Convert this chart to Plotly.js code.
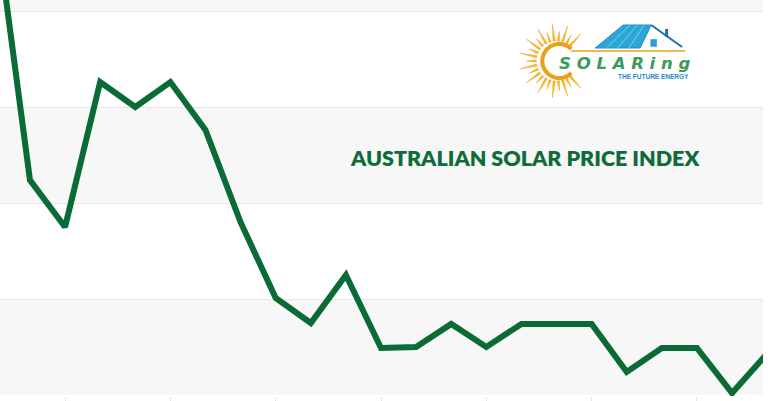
<!DOCTYPE html>
<html><head>
<script src="https://cdn.plot.ly/plotly-3.0.1.min.js"></script>
<style>body{margin:0;background:#fff}#c{width:768px;height:401px}</style>
</head><body><div id="c"></div>
<script>
// Data
const periods = [0,1,2,3,4,5,6,7,8,9,10,11,12,13,14,15,16,17,18,19,20,21,22];
const priceIndex = [1.400,1.124,1.075,1.226,1.200,1.226,1.176,1.080,1.001,0.975,1.025,0.949,0.950,0.974,0.950,0.974,0.974,0.974,0.924,0.949,0.949,0.902,0.943];
const tickPeriods = [2,5,8,11,14,17,20];
const gridValues = [0.9,1.0,1.1,1.2,1.3];
const titleText = 'AUSTRALIAN SOLAR PRICE INDEX';
const logoText = 'S O L A R i n g';
const logoSub = 'THE FUTURE ENERGY';

// pixel helpers (for decoration placement)
const px2x = p => (p - 30) / 35.15 + 1;
const py2y = p => 0.90 + (395 - p) / 960;

const shapes = [];
// alternating bands
[[0.9,1.0],[1.1,1.2],[1.3,1.4]].forEach(b => shapes.push({
  type:'rect', xref:'paper', x0:0, x1:1, yref:'y', y0:b[0], y1:b[1],
  fillcolor:'#f7f7f7', line:{width:0}, layer:'below'
}));

// Logo: sun rays
const cx = 557, cy = 61;
let rays = '';
const nR = 30;
for (let k = 0; k < nR; k++) {
  const a = k / nR * 2 * Math.PI;
  const deg = a * 180 / Math.PI;
  if (deg < 40 || deg > 320) continue;
  const r0 = 20, r1 = (k % 2 ? 30 : 37);
  const w = 0.06;
  const p1 = [cx + r0*Math.cos(a-w), cy - r0*Math.sin(a-w)];
  const p2 = [cx + r1*Math.cos(a), cy - r1*Math.sin(a)];
  const p3 = [cx + r0*Math.cos(a+w), cy - r0*Math.sin(a+w)];
  rays += `M${px2x(p1[0])},${py2y(p1[1])} L${px2x(p2[0])},${py2y(p2[1])} L${px2x(p3[0])},${py2y(p3[1])} Z `;
}
shapes.push({type:'path', path:rays, fillcolor:'#f2b632', line:{color:'#f0a820', width:0.5}, layer:'above'});
// C arc
let arc = '';
for (let d = 45; d <= 315; d += 5) {
  const a = d * Math.PI / 180;
  const x = cx + 3 + 17*Math.cos(a), y = cy - 17*Math.sin(a);
  arc += (arc ? 'L' : 'M') + px2x(x) + ',' + py2y(y) + ' ';
}
shapes.push({type:'path', path:arc, line:{color:'#e9a11c', width:4}, layer:'above'});
// underline
shapes.push({type:'line', x0:px2x(572), x1:px2x(686), y0:py2y(51), y1:py2y(51), line:{color:'#e9a11c', width:1.5}, layer:'above'});
// roof panels
shapes.push({type:'path', path:`M${px2x(596)},${py2y(48)} L${px2x(624)},${py2y(25)} L${px2x(652)},${py2y(25)} L${px2x(641)},${py2y(48)} Z`,
  fillcolor:'#2aa7d6', line:{color:'#1b8fc4', width:1}, layer:'above'});
// panel grid lines
for (let k = 1; k < 4; k++) {
  const t = k/4;
  shapes.push({type:'line', x0:px2x(596+45*t), y0:py2y(48), x1:px2x(624+28*t), y1:py2y(25), line:{color:'#bfe7f5', width:0.6}, layer:'above'});
}
// house outline
shapes.push({type:'path', path:`M${px2x(652)},${py2y(25)} L${px2x(683)},${py2y(47)}`, line:{color:'#1e6fa8', width:2}, layer:'above'});
shapes.push({type:'rect', x0:px2x(666), x1:px2x(669), y0:py2y(37), y1:py2y(29), fillcolor:'#1e6fa8', line:{width:0}, layer:'above'});
shapes.push({type:'rect', x0:px2x(651), x1:px2x(658), y0:py2y(47), y1:py2y(39), fillcolor:'#2a9fd0', line:{color:'#fff', width:0.5}, layer:'above'});

const trace = {
  x: periods, y: priceIndex, type:'scatter', mode:'lines',
  line:{color:'#0b6b37', width:6, shape:'linear'}, hoverinfo:'skip'
};

const layout = {
  width:768, height:401,
  margin:{l:0, r:5, t:0, b:5},
  paper_bgcolor:'#ffffff', plot_bgcolor:'#ffffff',
  showlegend:false,
  xaxis:{range:[px2x(0), px2x(764)], showgrid:false, zeroline:false, showline:false,
    tickvals:tickPeriods, ticks:'outside', ticklen:5, tickcolor:'#e2e2e2', tickwidth:1, showticklabels:false},
  yaxis:{range:[py2y(396), py2y(0)], tickvals:gridValues, showgrid:true, gridcolor:'#e6e6e6', gridwidth:1,
    zeroline:false, showline:false, showticklabels:false, ticks:''},
  shapes: shapes,
  annotations:[
    {text:titleText, x:px2x(525), y:py2y(158), xref:'x', yref:'y', showarrow:false,
     font:{family:'Lato, sans-serif', size:21.5, color:'#0e6b3a', weight:800}},
    {text:'<i><b>'+logoText+'</b></i>', x:px2x(626), y:py2y(63), showarrow:false,
     font:{family:'DejaVu Sans, sans-serif', size:16.5, color:'#3a9a5a'}},
    {text:'<b>'+logoSub+'</b>', x:px2x(654), y:py2y(76), showarrow:false,
     font:{family:'Liberation Sans, sans-serif', size:6.5, color:'#1e8ac6'}}
  ]
};
Plotly.newPlot('c', [trace], layout, {staticPlot:true, displayModeBar:false});
</script>
</body></html>
